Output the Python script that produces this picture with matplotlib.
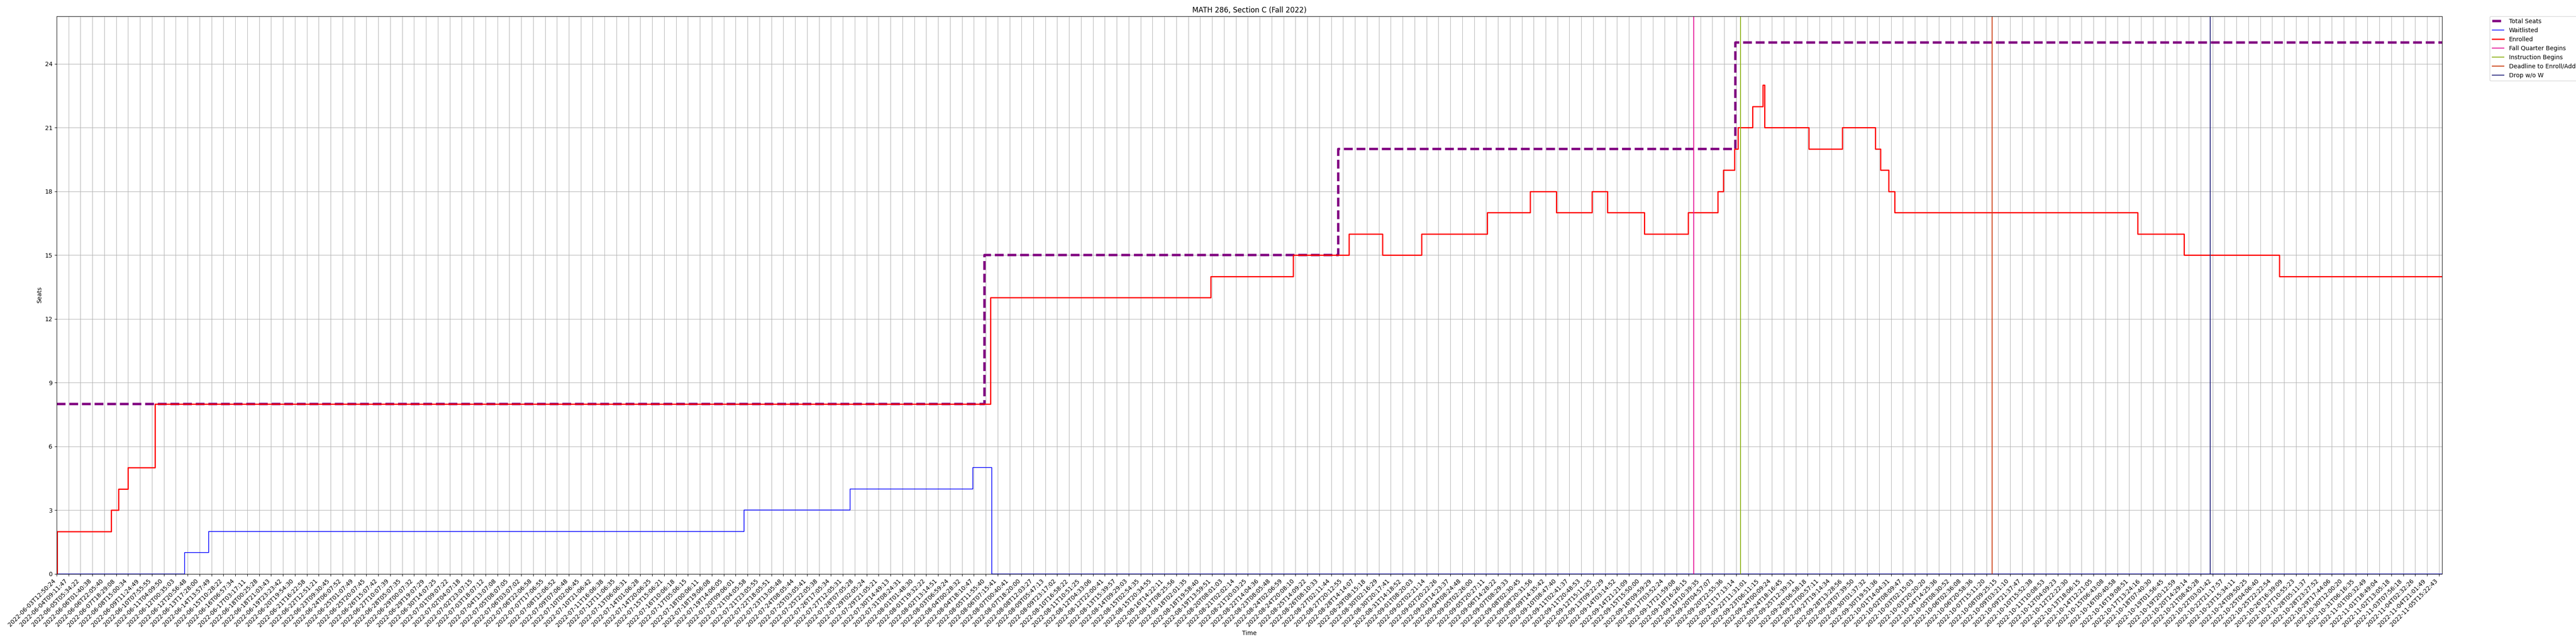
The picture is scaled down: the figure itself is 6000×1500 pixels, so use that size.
import numpy as np
import matplotlib
matplotlib.use("Agg")
import matplotlib.pyplot as plt
from datetime import datetime

# x positions are in tick-index units (one unit = one labelled tick)
total_x = [0, 77.9, 107.6, 140.94, 200.26]
total_y = [8, 15, 20, 25, 25]

wait_x = [0, 10.74, 12.76, 57.7, 66.6, 76.9, 78.5, 200.26]
wait_y = [0, 1, 2, 3, 4, 5, 0, 0]

enr_x = [0, 0.02, 4.58, 5.19, 6.0, 8.26, 78.4, 96.9, 103.8, 108.5, 111.3, 114.6,
         120.1, 123.7, 125.9, 128.9, 130.2, 133.3, 136.96, 139.47, 139.93, 140.86,
         141.16, 142.39, 143.25, 143.37, 147.1, 149.9, 152.7, 153.1, 153.8, 154.3,
         174.7, 178.6, 186.6, 200.26]
enr_y = [0, 2, 3, 4, 5, 8, 13, 14, 15, 16, 15, 16, 17, 18, 17, 18, 17, 16, 17, 18,
         19, 20, 21, 22, 23, 21, 20, 21, 20, 19, 18, 17, 16, 15, 14, 14]

events = ["Fall Quarter Begins", "Instruction Begins", "Deadline to Enroll/Add", "Drop w/o W"]
event_x = [137.42, 141.38, 162.47, 180.8]
event_colors = ["#e6199b", "#8fb31a", "#cc4014", "#2b2b80"]

# tick labels (index -> label)
known = {
    0: "2022-06-03T12:50:24", 1: "2022-06-04T09:11:47", 2: "2022-06-05T05:34:22",
    3: "2022-06-06T01:40:38", 4: "2022-06-06T22:05:40", 5: "2022-06-07T18:29:08",
    6: "2022-06-08T15:00:34", 7: "2022-06-09T11:24:49", 8: "2022-06-10T07:55:55",
    9: "2022-06-11T04:09:50", 10: "2022-06-12T00:35:03", 11: "2022-06-12T20:56:48",
    12: "2022-06-13T17:28:00", 13: "2022-06-14T13:57:49", 14: "2022-06-15T10:28:22",
    15: "2022-06-16T06:57:34", 16: "2022-06-17T03:17:11", 17: "2022-06-18T00:25:28",
    18: "2022-06-18T21:03:43", 19: "2022-06-19T23:23:42", 20: "2022-06-20T19:54:30",
    21: "2022-06-21T16:22:58", 22: "2022-06-22T12:51:21", 23: "2022-06-23T09:30:45",
    24: "2022-06-24T06:07:52",
    69: "2022-07-29T21:05:21", 70: "2022-07-30T14:49:13", 71: "2022-07-31T08:24:31",
    72: "2022-08-01T01:48:30", 73: "2022-08-01T19:32:22", 74: "2022-08-02T13:14:51",
    75: "2022-08-03T06:59:24", 76: "2022-08-04T00:28:32", 77: "2022-08-04T18:10:47",
    78: "2022-08-05T11:55:40", 79: "2022-08-06T07:15:41", 80: "2022-08-07T00:40:41",
    81: "2022-08-07T18:20:00", 82: "2022-08-08T12:03:27", 83: "2022-08-09T05:47:13",
    84: "2022-08-09T23:17:02", 85: "2022-08-10T16:58:22", 86: "2022-08-11T10:51:25",
    87: "2022-08-12T04:33:06", 88: "2022-08-12T22:00:41", 89: "2022-08-13T15:39:57",
    90: "2022-08-14T09:29:03", 91: "2022-08-15T02:54:35", 92: "2022-08-15T20:34:55",
    93: "2022-08-16T14:22:11", 94: "2022-08-17T08:25:56", 95: "2022-08-18T02:01:35",
    96: "2022-08-18T19:58:40",
    124: "2022-09-08T20:31:56", 125: "2022-09-09T14:35:42", 126: "2022-09-10T08:47:40",
    127: "2022-09-11T02:41:37", 128: "2022-09-11T20:48:53", 129: "2022-09-12T15:11:25",
    130: "2022-09-13T09:22:29", 131: "2022-09-14T03:14:52", 132: "2022-09-14T21:21:09",
    133: "2022-09-15T15:50:00", 134: "2022-09-16T09:59:29", 135: "2022-09-17T03:52:24",
    136: "2022-09-17T21:59:08", 137: "2022-09-18T16:26:15", 138: "2022-09-19T10:39:35",
    139: "2022-09-20T04:57:07", 140: "2022-09-20T22:55:36", 141: "2022-09-21T17:13:14",
    142: "2022-09-22T11:31:01", 143: "2022-09-23T06:11:15", 144: "2022-09-24T00:09:24",
    145: "2022-09-24T18:16:45", 146: "2022-09-25T12:39:31", 147: "2022-09-26T06:58:18",
    148: "2022-09-27T00:57:11", 149: "2022-09-27T19:14:34", 150: "2022-09-28T13:28:56",
    151: "2022-09-29T07:39:50", 152: "2022-09-30T01:37:32", 153: "2022-09-30T19:51:36",
    154: "2022-10-01T14:04:31",
    160: "2022-10-06T02:36:08", 161: "2022-10-06T20:58:36", 162: "2022-10-07T15:11:20",
    163: "2022-10-08T09:25:15", 164: "2022-10-09T03:21:10", 165: "2022-10-09T21:37:47",
    166: "2022-10-10T15:52:38", 167: "2022-10-11T10:08:53", 168: "2022-10-12T04:09:23",
    169: "2022-10-12T22:22:30", 170: "2022-10-13T18:06:15", 171: "2022-10-14T12:21:05",
    172: "2022-10-15T06:43:08", 173: "2022-10-16T00:40:58", 174: "2022-10-16T19:08:51",
    175: "2022-10-17T13:24:16",
    196: "2022-11-02T13:05:18", 197: "2022-11-03T07:56:18", 198: "2022-11-04T02:32:26",
    199: "2022-11-04T21:01:49", 200: "2022-11-05T15:22:43",
}

# labels not read yet: filled from neighbours
fmt = "%Y-%m-%dT%H:%M:%S"
ks = sorted(known)
kt = [datetime.strptime(known[k], fmt).timestamp() for k in ks]
tick_labels = []
for i in range(201):
    if i in known:
        tick_labels.append(known[i])
    else:
        t = np.interp(i, ks, kt)
        tick_labels.append(datetime.fromtimestamp(round(t)).strftime(fmt))

fig, ax = plt.subplots(figsize=(60, 15), dpi=100)
fig.subplots_adjust(left=0.022, right=0.948, top=0.975, bottom=0.109)

ax.step(total_x, total_y, where="post", color="purple", lw=4, ls="--", label="Total Seats")
ax.step(wait_x, wait_y, where="post", color="blue", lw=1.2, label="Waitlisted")
ax.step(enr_x, enr_y, where="post", color="red", lw=2, label="Enrolled")
for name, xv, c in zip(events, event_x, event_colors):
    ax.axvline(xv, color=c, lw=1.5, label=name)

ax.set_xlim(0, 200.26)
ax.set_ylim(0, 26.25)
ax.set_xticks(range(201))
ax.set_xticklabels(tick_labels, rotation=45, ha="right")
ax.set_yticks(range(0, 25, 3))
ax.grid(True)
ax.set_title("MATH 286, Section C (Fall 2022)")
ax.set_xlabel("Time")
ax.set_ylabel("Seats")
ax.legend(loc="upper left", bbox_to_anchor=(1.02, 1), borderaxespad=0)

fig.savefig("out.png", dpi=100)
